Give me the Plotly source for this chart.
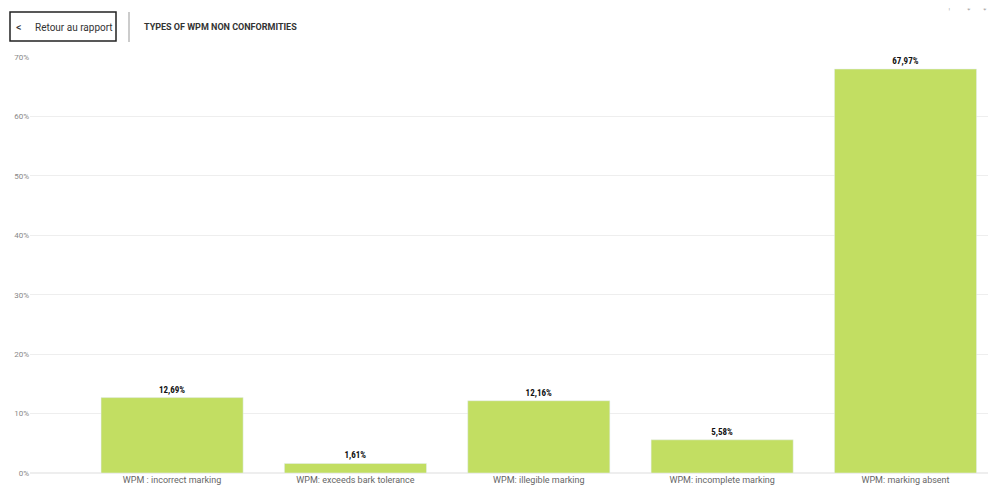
import plotly.graph_objects as go

categories = ["WPM : incorrect marking", "WPM: exceeds bark tolerance", "WPM: illegible marking",
              "WPM: incomplete marking", "WPM: marking absent"]
values = [12.69, 1.61, 12.16, 5.58, 67.97]
labels = ["<b>12,69%</b>", "<b>1,61%</b>", "<b>12,16%</b>", "<b>5,58%</b>", "<b>67,97%</b>"]
yticks = [0, 10, 20, 30, 40, 50, 60, 70]

def px(x):
    return (x - 30) / 958

def py(y):
    return 1 + (57 - y) / 416

fig = go.Figure(go.Bar(
    x=categories, y=values, text=labels, textposition="outside",
    marker_color="#C2DE62", width=0.775, cliponaxis=False,
    textfont=dict(family="Roboto Condensed, Roboto", size=9, color="#111"),
    hoverinfo="skip"))

fig.update_layout(
    width=996, height=496, margin=dict(l=22, r=16, t=49, b=31, autoexpand=False),
    paper_bgcolor="white", plot_bgcolor="white", showlegend=False,
    font=dict(family="Roboto"),
    xaxis=dict(range=[-0.775, 4.45], tickfont=dict(size=9, color="#666"), showgrid=False,
               showline=False, ticks="", ticklen=0),
    yaxis=dict(range=[0, 70], tickvals=yticks, ticktext=[f"{v}%" for v in yticks],
               tickfont=dict(size=8, color="#888"), gridcolor="#EEEEEE", zeroline=True,
               zerolinecolor="#EEEEEE", automargin=False),
    shapes=[
        dict(type="rect", xref="x domain", yref="paper", x0=px(10), x1=px(116),
             y0=py(41), y1=py(12), line=dict(color="#222", width=1.5), fillcolor="white"),
        dict(type="line", xref="x domain", yref="paper", x0=px(129), x1=px(129),
             y0=py(42), y1=py(12), line=dict(color="#999", width=1)),
    ],
    annotations=[
        dict(text="<", xref="x domain", yref="paper", x=px(14), y=py(27),
             xanchor="left", yanchor="middle", showarrow=False, font=dict(size=11, color="#333")),
        dict(text="Retour au rapport", xref="x domain", yref="paper", x=px(33), y=py(27),
             xanchor="left", yanchor="middle", showarrow=False, font=dict(size=10, color="#333")),
        dict(text="<b>TYPES OF WPM NON CONFORMITIES</b>", xref="x domain", yref="paper",
             x=px(142), y=py(27), xanchor="left", yanchor="middle", showarrow=False,
             font=dict(size=9, color="#333")),
        dict(text="↑    ↓   ↓", xref="x domain", yref="paper", x=px(990),
             y=py(5), xanchor="right", yanchor="middle", showarrow=False,
             font=dict(size=13, color="#aaa")),
    ])

fig.write_html("out.html")
